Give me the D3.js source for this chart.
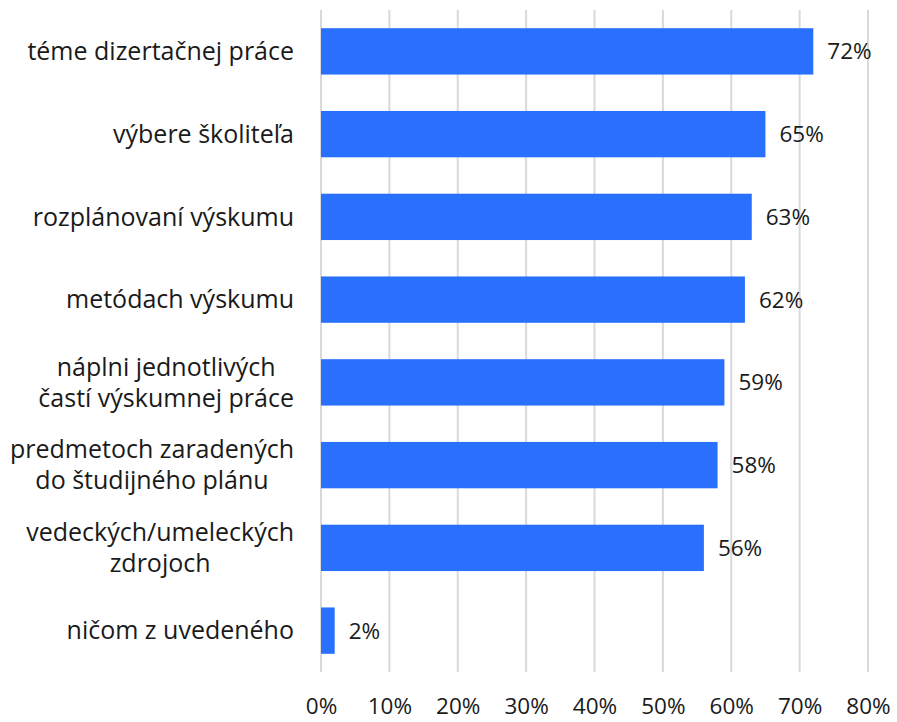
<!DOCTYPE html>
<html>
<head>
<meta charset="utf-8">
<script src="https://cdn.jsdelivr.net/npm/d3@7"></script>
<style>
  body { margin: 0; background: #fff; }
  text { font-family: "Open Sans", "Noto Sans", sans-serif; fill: #1a1a1a; }
</style>
</head>
<body>
<div id="chart"></div>
<script>
const chartWidth = 897;
const chartHeight = 722;

const margin = { top: 10, bottom: 50, left: 321, right: 29 };

// category labels (lines split where the original wraps)
const categories = [
  ["téme dizertačnej práce"],
  ["výbere školiteľa"],
  ["rozplánovaní výskumu"],
  ["metódach výskumu"],
  ["náplni jednotlivých", "častí výskumnej práce"],
  ["predmetoch zaradených", "do študijného plánu"],
  ["vedeckých/umeleckých", "zdrojoch"],
  ["ničom z uvedeného"]
];
const values = [72, 65, 63, 62, 59, 58, 56, 2];
const tickValues = [0, 10, 20, 30, 40, 50, 60, 70, 80];

const svg = d3.select("#chart").append("svg")
  .attr("width", chartWidth)
  .attr("height", chartHeight);

const xScale = d3.scaleLinear()
  .domain([0, 80])
  .range([margin.left, chartWidth - margin.right]);

const yScale = d3.scaleBand()
  .domain(d3.range(categories.length))
  .range([margin.top, chartHeight - margin.bottom])
  .paddingInner(0.44)
  .paddingOuter(0.22);

// gridlines
svg.append("g")
  .selectAll("line")
  .data(tickValues)
  .enter().append("line")
  .attr("x1", d => xScale(d))
  .attr("x2", d => xScale(d))
  .attr("y1", margin.top)
  .attr("y2", chartHeight - margin.bottom)
  .attr("stroke", "#d9d9d9")
  .attr("stroke-width", 2);

// bars
svg.append("g")
  .selectAll("rect")
  .data(values)
  .enter().append("rect")
  .attr("x", xScale(0))
  .attr("y", (d, i) => yScale(i))
  .attr("width", d => xScale(d) - xScale(0))
  .attr("height", yScale.bandwidth())
  .attr("fill", "#2970ff");

// value labels
svg.append("g")
  .selectAll("text")
  .data(values)
  .enter().append("text")
  .attr("x", d => xScale(d) + 14)
  .attr("y", (d, i) => yScale(i) + yScale.bandwidth() / 2)
  .attr("dy", "0.36em")
  .style("font-size", "22.5px")
  .text(d => d + "%");

// x axis tick labels
const xAxis = d3.axisBottom(xScale)
  .tickValues(tickValues)
  .tickFormat(d => d + "%")
  .tickSize(0)
  .tickPadding(26);

const gx = svg.append("g")
  .attr("transform", "translate(0," + (chartHeight - margin.bottom) + ")")
  .call(xAxis);
gx.select(".domain").remove();
gx.selectAll("text")
  .style("font-size", "22.5px")
  .style("font-family", "'Open Sans', sans-serif")
  .attr("fill", "#1a1a1a");

// category labels, multi-line blocks centred on their widest line
const labelRight = 294;
const lineHeight = 31;
const gy = svg.append("g");
categories.forEach((lines, i) => {
  const cy = yScale(i) + yScale.bandwidth() / 2;
  const t = gy.append("text")
    .attr("text-anchor", "middle")
    .style("font-size", "25px");
  lines.forEach((s, j) => {
    t.append("tspan")
      .attr("y", cy + (j - (lines.length - 1) / 2) * lineHeight)
      .attr("dy", "0.35em")
      .text(s);
  });
  let w = 0;
  t.selectAll("tspan").each(function() {
    w = Math.max(w, this.getComputedTextLength());
  });
  t.selectAll("tspan").attr("x", labelRight - w / 2);
});
</script>
</body>
</html>
